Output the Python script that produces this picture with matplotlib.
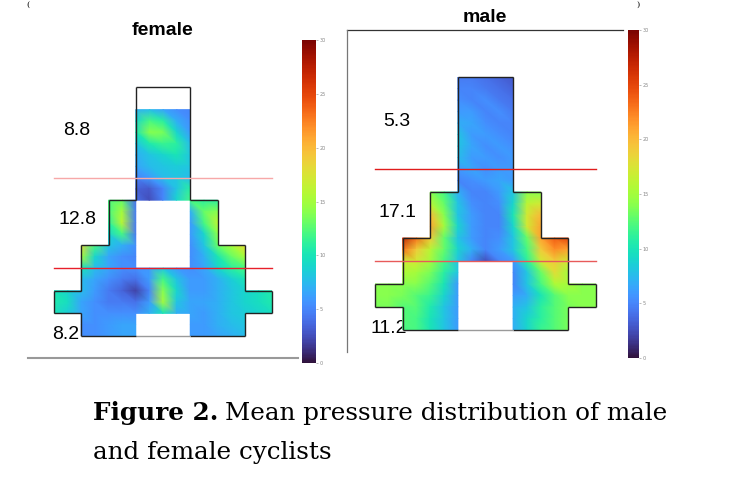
import numpy as np
import matplotlib
matplotlib.use('Agg')
import matplotlib.pyplot as plt
import matplotlib.tri as mtri

N = None
# Node values (kPa) on a half-cell grid: 23 rows (top->bottom) x 17 columns (left->right)
female_nodes = [
    [N]*17,
    [N]*17,
    [N]*6 + [7, 7.5, 6.5, 5.5, 5] + [N]*6,
    [N]*6 + [9, 12, 11, 7, 5.5] + [N]*6,
    [N]*6 + [10, 14, 13.5, 9, 6] + [N]*6,
    [N]*6 + [8, 10.5, 11.5, 11, 7.5] + [N]*6,
    [N]*6 + [7, 8, 9, 10, 8] + [N]*6,
    [N]*6 + [6.5, 7.5, 8, 8.5, 8] + [N]*6,
    [N]*6 + [5, 6, 7.5, 8, 7.5] + [N]*6,
    [N]*6 + [3.5, 3, 5, 8, 11] + [N]*6,
    [N]*4 + [12, 13, 4, 2.5, 5, 9, 12, 11, 11] + [N]*4,
    [N]*4 + [12, 15, 4.5, N, N, N, 7, 13, 14] + [N]*4,
    [N]*4 + [11, 16, 4.5, N, N, N, 6, 12, 16] + [N]*4,
    [N]*4 + [9, 12, 4.5, N, N, N, 6, 9, 14] + [N]*4,
    [N, N, 18, 12, 8, 7, 5.5, N, N, N, 5.5, 8, 13, 15, 18, N, N],
    [N, N, 15, 9, 6.5, 5.5, 5, N, N, N, 5.5, 7, 10, 13, 15, N, N],
    [N, N, 10, 7.5, 6.5, 5.5, 5.5, 6, 8, 6, 5.5, 6.5, 9, 11, 12, N, N],
    [N, N, 7.5, 6.5, 5.5, 4.5, 4, 6, 12, 8, 6, 6, 7, 8.5, 10, N, N],
    [10, 9, 7.5, 6, 4.5, 3.5, 2, 5, 14, 9, 6, 6, 7, 8, 9, 9.5, 10.5],
    [10.5, 9.5, 6.5, 5.5, 4.5, 4.5, 4, 6, 15, 8, 6.5, 6.5, 7, 8, 9, 9.5, 10.5],
    [10, 8.5, 6.5, 5.5, 5.5, 5.5, 5.5, 7, 10, 7, 6.5, 6, 7, 8, 8.5, 9, 9.5],
    [N, N, 5.5, 5.5, 6, 6.5, 6.5, N, N, N, 6, 6, 7, 7.5, 8, N, N],
    [N, N, 5.5, 5.5, 6, 6.5, 6.5, N, N, N, 6, 6, 6.5, 7, 7.5, N, N],
]

male_nodes = [
    [N]*6 + [4.5, 4.5, 4, 3.5, 3] + [N]*6,
    [N]*6 + [5, 5, 4.5, 4, 3.5] + [N]*6,
    [N]*6 + [5.5, 5, 5.5, 4.5, 4] + [N]*6,
    [N]*6 + [6, 6, 5, 5.5, 4.5] + [N]*6,
    [N]*6 + [7, 6.5, 5.5, 5, 5] + [N]*6,
    [N]*6 + [8, 6, 6, 5.5, 5] + [N]*6,
    [N]*6 + [8, 6.5, 5.5, 6, 5.5] + [N]*6,
    [N]*6 + [7.5, 6, 6, 5.5, 6] + [N]*6,
    [N]*6 + [6, 6.5, 5.5, 6, 6] + [N]*6,
    [N]*6 + [5, 5.5, 6, 6.5, 6] + [N]*6,
    [N]*4 + [14, 12, 7, 5, 5, 6, 8, 14, 14] + [N]*4,
    [N]*4 + [16, 13, 8, 5.5, 5, 5.5, 9, 16, 17] + [N]*4,
    [N]*4 + [20, 14, 8, 6, 5, 5, 10, 17, 20] + [N]*4,
    [N]*4 + [21, 15, 9, 6, 5, 5, 9, 17, 21] + [N]*4,
    [N, N, 27, 23, 19, 13, 8, 6, 5, 5.5, 8, 13, 21, 24, 25, N, N],
    [N, N, 23, 19, 16, 13, 9, 7, 5, 6, 8, 12, 19, 22, 21, N, N],
    [N, N, 17, 17, 15, 12, 8, 5, 2.5, 5, 6, 11, 17, 19, 17, N, N],
    [N, N, 15.5, 15, 13.5, 11, 8, N, N, N, 5, 8, 13, 18, 15, N, N],
    [14, 14, 14, 14, 12.5, 10, 6, N, N, N, 5, 8, 12, 15.5, 15, 14, 14],
    [14, 14, 13.5, 12.5, 11.5, 9, 6, N, N, N, 6, 7, 10, 12.5, 14, 14, 14],
    [13.5, 13.5, 12.5, 12.5, 10.5, 8, 6, N, N, N, 7, 8, 11, 12.5, 13.5, 14, 14],
    [N, N, 12.5, 12, 10, 8, 6, N, N, N, 7, 9, 11, 12.5, 13.5, N, N],
    [N, N, 12, 12, 10, 8, 6, N, N, N, 7, 9, 11.5, 12.5, 13.5, N, N],
]

titles = ["female", "male"]
zone_labels_female = ["8.8", "12.8", "8.2"]
zone_labels_male = ["5.3", "17.1", "11.2"]
cbar_ticks = [0, 5, 10, 15, 20, 25, 30]
caption_bold = "Figure 2."
caption_line1 = "Mean pressure distribution of male"
caption_line2 = "and female cyclists"

# saddle outline in cell units (x right, y down)
outline = [(3, 0), (5, 0), (5, 5), (6, 5), (6, 7), (7, 7), (7, 9), (8, 9), (8, 10),
           (7, 10), (7, 11), (5, 11), (3, 11), (1, 11), (1, 10), (0, 10), (0, 9),
           (1, 9), (1, 7), (2, 7), (2, 5), (3, 5), (3, 0)]

W, H = 730, 498
fig = plt.figure(figsize=(W / 100, H / 100), dpi=100)
bg = fig.add_axes([0, 0, 1, 1])
bg.set_xlim(0, W)
bg.set_ylim(H, 0)
bg.axis('off')


def px_axes(x0, y0, x1, y1):
    return fig.add_axes([x0 / W, (H - y1) / H, (x1 - x0) / W, (y1 - y0) / H])


def draw_map(ax, nodes, red_colors):
    arr = np.array([[np.nan if v is None else v for v in row] for row in nodes], dtype=float)
    nv, nu = arr.shape
    uu, vv = np.meshgrid(np.arange(nu), np.arange(nv))
    xs = uu.ravel() / 2.0
    ys = vv.ravel() / 2.0
    tris, mask = [], []
    for v in range(nv - 1):
        for u in range(nu - 1):
            a = v * nu + u
            b = a + 1
            c = a + nu
            d = c + 1
            bad = bool(np.isnan(arr[v:v + 2, u:u + 2]).any())
            tris.append([a, b, d]); mask.append(bad)
            tris.append([a, d, c]); mask.append(bad)
    tri = mtri.Triangulation(xs, ys, np.array(tris))
    tri.set_mask(np.array(mask))
    vals = np.nan_to_num(arr.ravel(), nan=0.0)
    m = ax.tripcolor(tri, vals, shading='gouraud', cmap='turbo', vmin=0, vmax=30)
    for i in range(len(outline) - 1):
        (xa, ya), (xb, yb) = outline[i], outline[i + 1]
        col = '#9a9a9a' if (ya == 11 and yb == 11 and min(xa, xb) == 3) else '#222222'
        ax.plot([xa, xb], [ya, yb], color=col, lw=1.0, clip_on=False, solid_capstyle='butt')
    ax.plot([0, 8], [4, 4], color=red_colors[0], lw=1.0, clip_on=False)
    ax.plot([0, 8], [8, 8], color=red_colors[1], lw=1.0, clip_on=False)
    ax.set_xlim(0, 8)
    ax.set_ylim(11, 0)
    ax.axis('off')
    return m


axf = px_axes(54, 87, 272, 336)
mf = draw_map(axf, female_nodes, ['#f7a8a8', '#e8202a'])
axm = px_axes(375, 77, 596, 330)
mm = draw_map(axm, male_nodes, ['#e01c1c', '#e85a5a'])

for (x0, y0, x1, y1), m in [((302, 40, 316, 363), mf), ((628, 30, 639, 358), mm)]:
    cax = px_axes(x0, y0, x1, y1)
    cb = fig.colorbar(m, cax=cax, ticks=cbar_ticks)
    cb.outline.set_visible(False)
    cb.ax.tick_params(labelsize=3.5, colors='#888888', length=1.5, width=0.4, pad=1)

sans = ['Liberation Sans', 'DejaVu Sans']
bg.text(163, 30, titles[0], ha='center', va='center', fontsize=14, fontweight='bold', family=sans)
bg.text(485, 17, titles[1], ha='center', va='center', fontsize=14, fontweight='bold', family=sans)

for (x, y), s in zip([(77, 130), (78, 219), (66, 334)], zone_labels_female):
    bg.text(x, y, s, ha='center', va='center', fontsize=14, family=sans)
for (x, y), s in zip([(397, 121), (398, 212), (389, 328)], zone_labels_male):
    bg.text(x, y, s, ha='center', va='center', fontsize=14, family=sans)

# frame remnants
bg.plot([28, 298], [358, 358], color='#999999', lw=1.5)
bg.plot([347, 623], [30, 30], color='#333333', lw=0.9)
bg.plot([347, 347], [30, 352], color='#777777', lw=0.9)

serif = ['DejaVu Serif', 'Liberation Serif']
bg.text(28, 0.5, '(', ha='center', va='top', fontsize=6, family=serif)
bg.text(638, 0.5, ')', ha='center', va='top', fontsize=6, family=serif)

# caption, sized so that the first line spans the same width as in the reference
fs = 17.0
fig.canvas.draw()
r = fig.canvas.get_renderer()
t1 = bg.text(93, 413, caption_bold, ha='left', va='center', fontsize=fs, fontweight='bold', family=serif)
bb = t1.get_window_extent(r)
t2 = bg.text(bb.x1 + 6, 413, caption_line1, ha='left', va='center', fontsize=fs, family=serif)
bb2 = t2.get_window_extent(r)
scale = (665 - 93) / (bb2.x1 - 93)
fs2 = fs * scale
t1.set_fontsize(fs2)
bb = t1.get_window_extent(r)
t2.set_fontsize(fs2)
t2.set_x(bb.x1 + 6 * scale)
bg.text(93, 452, caption_line2, ha='left', va='center', fontsize=fs2, family=serif)

fig.savefig('out.png', dpi=100)
